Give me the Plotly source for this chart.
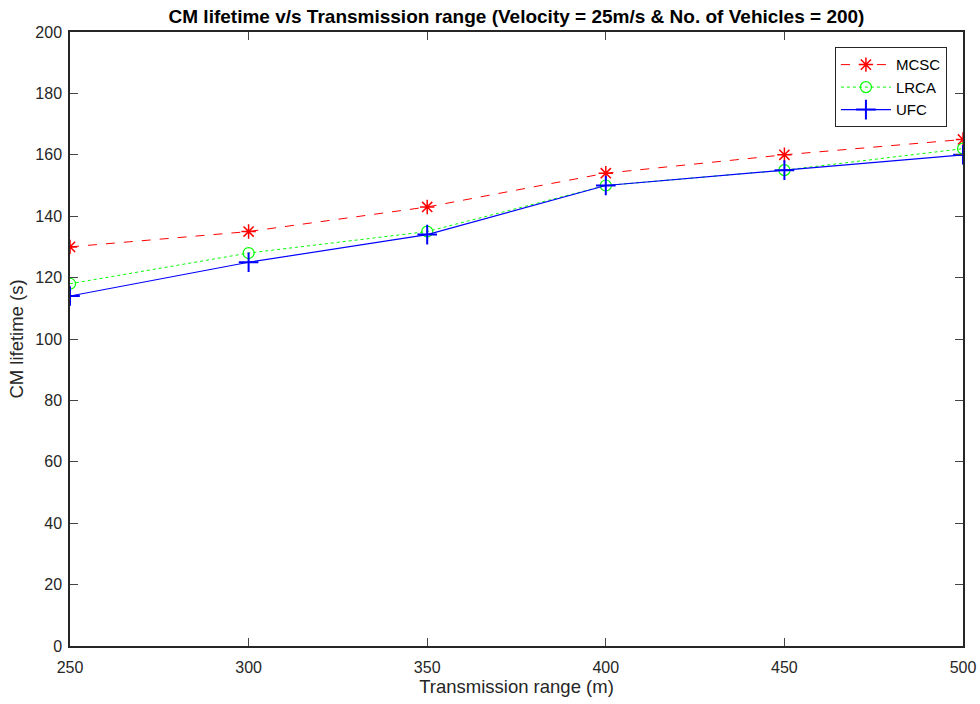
import plotly.graph_objects as go

x_range = [250, 300, 350, 400, 450, 500]
mcsc = [130, 135, 143, 154, 160, 165]
lrca = [118, 128, 135, 150, 155, 162]
ufc = [114, 125, 134, 150, 155, 160]

font = "Liberation Sans, Arial, sans-serif"

fig = go.Figure()
fig.add_trace(go.Scatter(
    x=x_range, y=mcsc, name="MCSC", mode="lines+markers",
    line=dict(color="#ff0000", width=1, dash="dash"),
    marker=dict(symbol="asterisk-open", size=12, color="#ff0000", line=dict(color="#ff0000", width=1.5)),
))
fig.add_trace(go.Scatter(
    x=x_range, y=lrca, name="LRCA", mode="lines+markers",
    line=dict(color="#00ff00", width=1, dash="dot"),
    marker=dict(symbol="circle-open", size=11, color="#00ff00", line=dict(color="#00ff00", width=1.2)),
))
fig.add_trace(go.Scatter(
    x=x_range, y=ufc, name="UFC", mode="lines+markers",
    line=dict(color="#0000ff", width=1.2),
    marker=dict(symbol="cross-thin-open", size=14, color="#0000ff", line=dict(color="#0000ff", width=2)),
))

fig.update_layout(
    width=980, height=704,
    margin=dict(l=70, r=17, t=32, b=58, autoexpand=False),
    paper_bgcolor="white", plot_bgcolor="white",
    font=dict(family=font, size=16, color="#262626"),
    title=dict(
        text="<b>CM lifetime v/s Transmission range (Velocity = 25m/s & No. of Vehicles = 200)</b>",
        x=0.5, xref="paper", xanchor="center", y=1 - 16 / 704, yanchor="middle",
        font=dict(family=font, size=19, color="black"),
    ),
    showlegend=True,
    legend=dict(
        x=0.982, y=0.975, xanchor="right", yanchor="top",
        bordercolor="#262626", borderwidth=1, bgcolor="white",
        font=dict(family=font, size=15, color="black"),
        tracegroupgap=0, itemwidth=50,
    ),
)
fig.update_xaxes(
    range=[250, 500], tickvals=x_range, ticks="inside", ticklen=8,
    showline=True, linecolor="#262626", linewidth=1.5, mirror="ticks",
    showgrid=False, zeroline=False, automargin=False, ticklabelstandoff=6,
    title=dict(text="Transmission range (m)", font=dict(family=font, size=18.5, color="#262626"), standoff=5),
    tickfont=dict(family=font, size=16, color="#262626"),
)
fig.update_yaxes(
    range=[0, 200], dtick=20, ticks="inside", ticklen=8,
    showline=True, linecolor="#262626", linewidth=1.5, mirror="ticks",
    showgrid=False, zeroline=False, automargin=False, ticklabelstandoff=3,
    title=dict(text="CM lifetime (s)", font=dict(family=font, size=18.5, color="#262626"), standoff=7),
    tickfont=dict(family=font, size=16, color="#262626"),
)

fig.write_html("out.html")
